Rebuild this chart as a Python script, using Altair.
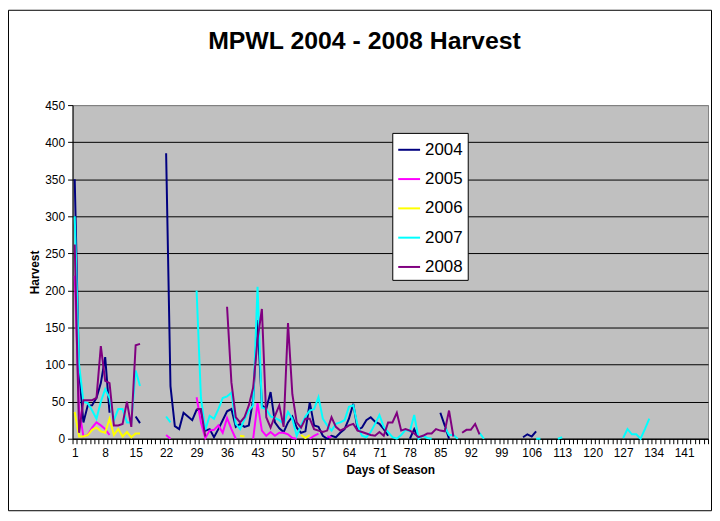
import altair as alt
import pandas as pd

N = None
days = list(range(1, 147))
years = ["2004", "2005", "2006", "2007", "2008"]
colors = ["#000080", "#FF00FF", "#FFFF00", "#00FFFF", "#800080"]
y_ticks = [0, 50, 100, 150, 200, 250, 300, 350, 400, 450]
x_label_days = [1, 8, 15, 22, 29, 36, 43, 50, 57, 64, 71, 78, 85, 92, 99,
                106, 113, 120, 127, 134, 141]

y2004 = [
    350, 90, 22, 45, 45, 55, 75, 110, 35, N,      # 1-10
    N, N, N, N, 30, 21, N, N, N, N,               # 11-20
    N, 385, 71, 17, 13, 35, 30, 25, 39, 38,       # 21-30
    11, 13, 2, 13, 25, 37, 40, 16, 20, 16,        # 31-40
    18, 53, 160, 45, 40, 63, 22, 14, 9, 22,       # 41-50
    30, 15, 8, 10, 49, 18, 16, 4, 0, 4,           # 51-60
    2, 8, 13, 27, 47, 12, 15, 25, 29, 23,         # 61-70
    20, 13, 4, N, N, N, N, 0, 13, 0,              # 71-80
    N, N, N, N, 35, 18, 0, N, N, N,               # 81-90
    N, N, N, N, N, N, N, N, N, N,                 # 91-100
    N, N, N, 2, 6, 3, 10, N, N, N,                # 101-110
    N, N, N, N, N, N, N, N, N, N,                 # 111-120
    N, N, N, N, N, N, N, N, N, N,                 # 121-130
    N, N, N, N, N, N, N, N, N, N,                 # 131-140
    N, N, N, N, N, N,                             # 141-146
]
y2005 = [
    220, 40, 3, 5, 15, 22, 18, 13, 5, N,          # 1-10
    N, N, N, N, N, N, N, N, N, N,                 # 11-20
    N, 5, 0, N, N, N, N, N, 56, 22,               # 21-30
    1, 11, 12, 18, 8, 28, 13, 0, N, N,            # 31-40
    N, 0, 48, 11, 4, 9, 4, 8, 8, 6,               # 41-50
    1, 0, N, N, 0, 4, 7, N, 3, 2,                 # 51-60
    N, N, N, N, N, N, N, N, N, N,                 # 61-70
    N, N, N, N, N, N, N, N, N, N,                 # 71-80
    N, N, N, N, N, N, N, N, N, N,                 # 81-90
    N, N, N, N, N, N, N, N, N, N,                 # 91-100
    N, N, N, N, N, N, N, N, N, N,                 # 101-110
    N, N, N, N, N, N, N, N, N, N,                 # 111-120
    N, N, N, N, N, N, N, N, N, N,                 # 121-130
    N, N, N, N, N, N, N, N, N, N,                 # 131-140
    N, N, N, N, N, N,                             # 141-146
]
y2006 = [
    36, 3, 3, 5, 12, 15, 10, 8, 27, 5,            # 1-10
    13, 3, 9, 2, 7, 7, N, N, N, N,                # 11-20
    N, N, N, N, N, N, N, N, N, N,                 # 21-30
    N, N, N, N, N, N, N, N, 4, 3,                 # 31-40
    N, N, N, N, N, N, N, N, N, N,                 # 41-50
    N, N, 5, 1, 5, N, N, N, N, N,                 # 51-60
    N, N, N, N, N, N, N, N, N, N,                 # 61-70
    N, N, N, N, N, N, N, N, N, N,                 # 71-80
    N, N, N, N, N, N, N, N, N, N,                 # 81-90
    N, N, N, N, N, N, N, N, N, N,                 # 91-100
    N, N, N, N, N, N, N, N, N, N,                 # 101-110
    N, N, N, N, N, N, N, N, N, N,                 # 111-120
    N, N, N, N, N, N, N, N, N, N,                 # 121-130
    N, N, N, N, N, N, N, N, N, N,                 # 131-140
    N, N, N, N, N, N,                             # 141-146
]
y2007 = [
    300, 100, 50, 48, 38, 27, 50, 67, 55, 25,     # 1-10
    40, 40, 22, 22, 92, 71, N, N, N, N,           # 11-20
    N, 30, 22, N, N, N, N, N, 200, 55,            # 21-30
    12, 31, 27, 40, 55, 57, 62, 20, 13, 26,       # 31-40
    38, 45, 205, 42, 40, 30, 28, 25, 20, 36,      # 41-50
    27, 4, 18, 30, 38, 40, 56, 27, 18, 11,        # 51-60
    20, 22, 25, 43, 45, 18, 4, 2, 9, 20,          # 61-70
    32, 16, 9, 2, 0, 5, 12, 10, 32, 0,            # 71-80
    4, 1, 0, N, N, 16, 5, 5, 0, N,                # 81-90
    N, N, N, 8, 0, N, N, N, N, N,                 # 91-100
    N, N, N, N, N, N, 0, 0, N, N,                 # 101-110
    N, 0, 2, N, N, N, N, N, N, N,                 # 111-120
    N, N, N, N, N, N, 1, 13, 6, 6,                # 121-130
    0, 13, 27, N, N, N, N, N, N, N,               # 131-140
    N, N, N, N, N, N,                             # 141-146
]
y2008 = [
    262, 8, 52, 52, 52, 55, 125, 78, 75, 18,      # 1-10
    18, 20, 50, 16, 126, 128, N, N, N, N,         # 11-20
    N, N, N, N, N, N, N, N, 40, 40,               # 21-30
    3, N, N, N, N, 178, 76, 29, 22, 29,           # 31-40
    45, 69, 134, 175, 29, 15, 31, 45, 16, 156,    # 41-50
    60, 22, 15, 27, 27, 13, 11, 9, 11, 29,        # 51-60
    16, 11, 14, 18, 20, 11, 9, 7, 5, 4,           # 61-70
    9, 4, 22, 22, 35, 11, 13, 11, 7, 2,           # 71-80
    4, 7, 7, 13, 11, 10, 38, 3, N, 8,             # 81-90
    12, 12, 20, 6, N, N, N, N, N, N,              # 91-100
    N, N, N, N, N, N, N, N, N, N,                 # 101-110
    N, N, N, N, N, N, N, N, N, N,                 # 111-120
    N, N, N, N, N, N, N, N, N, N,                 # 121-130
    N, N, N, N, N, N, N, N, N, N,                 # 131-140
    N, N, N, N, N, N,                             # 141-146
]

series = [y2004, y2005, y2006, y2007, y2008]
rows = []
for yr, vals in zip(years, series):
    assert len(vals) == len(days), (yr, len(vals))
    for d, v in zip(days, vals):
        rows.append({"Day": d, "Year": yr, "Harvest": v})
df = pd.DataFrame(rows)

W, H = 640, 336
PAD = {"left": 65, "top": 96, "right": 4, "bottom": 73}
FONT = "Liberation Sans"

boundaries = [d - 0.5 for d in days] + [days[-1] + 0.5]
label_set = ",".join(str(v) for v in x_label_days)
label_expr = f"indexof([{label_set}], datum.value + 0.5) >= 0 ? format(datum.value + 0.5, 'd') : ''"
half_band = W / len(days) / 2

lines = alt.Chart(df).mark_line(strokeWidth=2, invalid="break-paths-show-domains").encode(
    x=alt.X("Day:Q",
            scale=alt.Scale(domain=[0.5, days[-1] + 0.5], nice=False, zero=False),
            axis=alt.Axis(values=boundaries, labelExpr=label_expr, labelOffset=half_band,
                          labelOverlap=False, labelFlush=False, grid=False,
                          tickSize=5, tickColor="black", domainColor="black",
                          labelColor="black", labelFontSize=12, labelPadding=4,
                          title="Days of Season", titleFontSize=12, titleFontWeight="bold",
                          titleColor="black", titlePadding=6)),
    y=alt.Y("Harvest:Q",
            scale=alt.Scale(domain=[0, 450], nice=False),
            axis=alt.Axis(values=y_ticks, grid=True,
                          gridColor={"condition": {"test": "datum.value >= 450", "value": "#808080"},
                                     "value": "#000000"},
                          tickSize=5, tickColor="black", domainColor="black",
                          labelColor="black", labelFontSize=12, labelPadding=3,
                          title="Harvest", titleFontSize=12, titleFontWeight="bold",
                          titleColor="black", titlePadding=3)),
    color=alt.Color("Year:N",
                    scale=alt.Scale(domain=years, range=colors),
                    legend=alt.Legend(title=None, orient="none", legendX=322, legendY=28,
                                      direction="vertical", fillColor="white",
                                      strokeColor="black", padding=5,
                                      symbolType="stroke", symbolSize=484,
                                      symbolStrokeWidth=2, labelFontSize=17,
                                      labelColor="black", rowPadding=9.5, labelOffset=4)),
)

border = alt.Chart(alt.Data(values=[{"frame": 1}])).mark_rect(
    fillOpacity=0, stroke="black", strokeWidth=1
).encode(
    x=alt.value(-PAD["left"] + 0.5),
    x2=alt.value(W + PAD["right"] - 0.5),
    y=alt.value(-PAD["top"] + 0.5),
    y2=alt.value(H + PAD["bottom"] - 0.5),
)

chart = alt.layer(lines, border).properties(
    width=W, height=H, padding=PAD, autosize="none",
    title=alt.TitleParams("MPWL 2004 - 2008 Harvest", fontSize=25, fontWeight="bold",
                          color="black", anchor="middle", dx=-26, offset=-45),
).configure(font=FONT).configure_view(fill="#C0C0C0", stroke="#808080")

chart.save("out.html", embed_options={"renderer": "svg", "actions": False})
